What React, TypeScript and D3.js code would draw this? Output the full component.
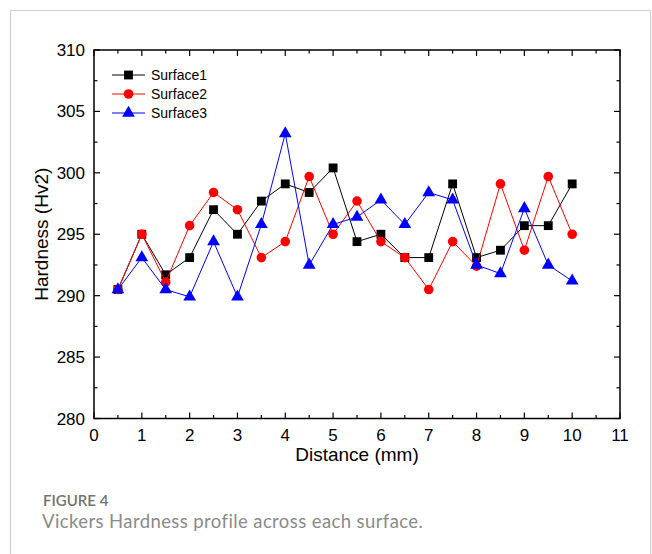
import React from 'react';
import * as d3 from 'd3';

// distance along the surface (mm)
const distances = [0.5, 1, 1.5, 2, 2.5, 3, 3.5, 4, 4.5, 5, 5.5, 6, 6.5, 7, 7.5, 8, 8.5, 9, 9.5, 10];

// hardness readings (Hv2)
const surface1 = [290.5, 295.0, 291.7, 293.1, 297.0, 295.0, 297.7, 299.1, 298.4, 300.4, 294.4, 295.0, 293.1, 293.1, 299.1, 293.1, 293.7, 295.7, 295.7, 299.1];
const surface2 = [290.5, 295.0, 291.1, 295.7, 298.4, 297.0, 293.1, 294.4, 299.7, 295.0, 297.7, 294.4, 293.1, 290.5, 294.4, 292.4, 299.1, 293.7, 299.7, 295.0];
const surface3 = [290.5, 293.1, 290.5, 289.9, 294.4, 289.9, 295.8, 303.2, 292.5, 295.8, 296.4, 297.8, 295.8, 298.4, 297.8, 292.5, 291.8, 297.1, 292.5, 291.2];

const seriesNames = ['Surface1', 'Surface2', 'Surface3'];
const seriesColors = ['#000000', '#ff0000', '#0000ff'];
const seriesValues = [surface1, surface2, surface3];

const xTicks = [0, 1, 2, 3, 4, 5, 6, 7, 8, 9, 10, 11];
const yTicks = [280, 285, 290, 295, 300, 305, 310];

const W = 652;
const H = 554;
const plot = { left: 94, right: 620, top: 50, bottom: 418.5 };

export default function App() {
  const x = d3.scaleLinear().domain([0, 11]).range([plot.left, plot.right]);
  const y = d3.scaleLinear().domain([280, 310]).range([plot.bottom, plot.top]);

  const symbols = [
    d3.symbol().type(d3.symbolSquare).size(78)(),
    d3.symbol().type(d3.symbolCircle).size(72)(),
    d3.symbol().type(d3.symbolTriangle).size(70)(),
  ];

  const line = d3.line<[number, number]>().x(d => x(d[0])).y(d => y(d[1]));

  const xMinor = d3.range(0.5, 11, 1);
  const yMinor = d3.range(282.5, 310, 5);
  const font = 'Liberation Sans, Arial, sans-serif';
  const capFont = "Lato, 'Open Sans', sans-serif";

  return (
    <svg width={W} height={H} style={{ position: 'absolute', left: 0, top: 0, background: '#fff' }}>
      {/* outer figure frame */}
      <path d={`M10.5,${H} V10.5 H650.5 V${H}`} fill="none" stroke="#cfcfcf" strokeWidth={1.2} />

      {/* series */}
      {seriesValues.map((vals, i) => {
        const pts = distances.map((d, j) => [d, vals[j]] as [number, number]);
        return (
          <g key={seriesNames[i]}>
            <path d={line(pts) || ''} fill="none" stroke={seriesColors[i]} strokeWidth={1} />
            {pts.map((p, j) => (
              <path key={j} d={symbols[i] || ''} transform={`translate(${x(p[0])},${y(p[1])})`} fill={seriesColors[i]} />
            ))}
          </g>
        );
      })}

      {/* axes box */}
      <rect x={plot.left} y={plot.top} width={plot.right - plot.left} height={plot.bottom - plot.top}
        fill="none" stroke="#000" strokeWidth={1.5} />

      {/* x ticks, bottom and top, pointing inward */}
      {xTicks.map(t => (
        <g key={'xt' + t}>
          <line x1={x(t)} x2={x(t)} y1={plot.bottom} y2={plot.bottom - 6} stroke="#000" strokeWidth={1.2} />
          <line x1={x(t)} x2={x(t)} y1={plot.top} y2={plot.top + 6} stroke="#000" strokeWidth={1.2} />
          <text x={x(t)} y={441} textAnchor="middle" fontFamily={font} fontSize={17} fill="#000">{t}</text>
        </g>
      ))}
      {xMinor.map(t => (
        <g key={'xm' + t}>
          <line x1={x(t)} x2={x(t)} y1={plot.bottom} y2={plot.bottom - 3.5} stroke="#000" strokeWidth={1.2} />
          <line x1={x(t)} x2={x(t)} y1={plot.top} y2={plot.top + 3.5} stroke="#000" strokeWidth={1.2} />
        </g>
      ))}

      {/* y ticks, left and right */}
      {yTicks.map(t => (
        <g key={'yt' + t}>
          <line x1={plot.left} x2={plot.left + 6} y1={y(t)} y2={y(t)} stroke="#000" strokeWidth={1.2} />
          <line x1={plot.right} x2={plot.right - 6} y1={y(t)} y2={y(t)} stroke="#000" strokeWidth={1.2} />
          <text x={85} y={y(t) + 6} textAnchor="end" fontFamily={font} fontSize={17} fill="#000">{t}</text>
        </g>
      ))}
      {yMinor.map(t => (
        <g key={'ym' + t}>
          <line x1={plot.left} x2={plot.left + 3.5} y1={y(t)} y2={y(t)} stroke="#000" strokeWidth={1.2} />
          <line x1={plot.right} x2={plot.right - 3.5} y1={y(t)} y2={y(t)} stroke="#000" strokeWidth={1.2} />
        </g>
      ))}

      {/* axis titles */}
      <text x={(plot.left + plot.right) / 2} y={461} textAnchor="middle" fontFamily={font} fontSize={19} fill="#000">Distance (mm)</text>
      <text transform={`translate(48,${(plot.top + plot.bottom) / 2}) rotate(-90)`} textAnchor="middle"
        fontFamily={font} fontSize={19} fill="#000">Hardness (Hv2)</text>

      {/* legend */}
      {seriesNames.map((name, i) => {
        const ly = 75 + i * 19;
        return (
          <g key={'lg' + name}>
            <line x1={112} x2={145} y1={ly} y2={ly} stroke={seriesColors[i]} strokeWidth={1} />
            <path d={symbols[i] || ''} transform={`translate(128.5,${ly})`} fill={seriesColors[i]} />
            <text x={151} y={ly + 5} fontFamily={font} fontSize={14} fill="#000">{name}</text>
          </g>
        );
      })}

      {/* caption */}
      <text x={43} y={506} fontFamily={capFont} fontSize={15} fontWeight={600} fill="#737373">FIGURE 4</text>
      <text x={42} y={528} fontFamily={capFont} fontSize={18.5} letterSpacing={0.4} fill="#8a8a8a">Vickers Hardness profile across each surface.</text>
    </svg>
  );
}
